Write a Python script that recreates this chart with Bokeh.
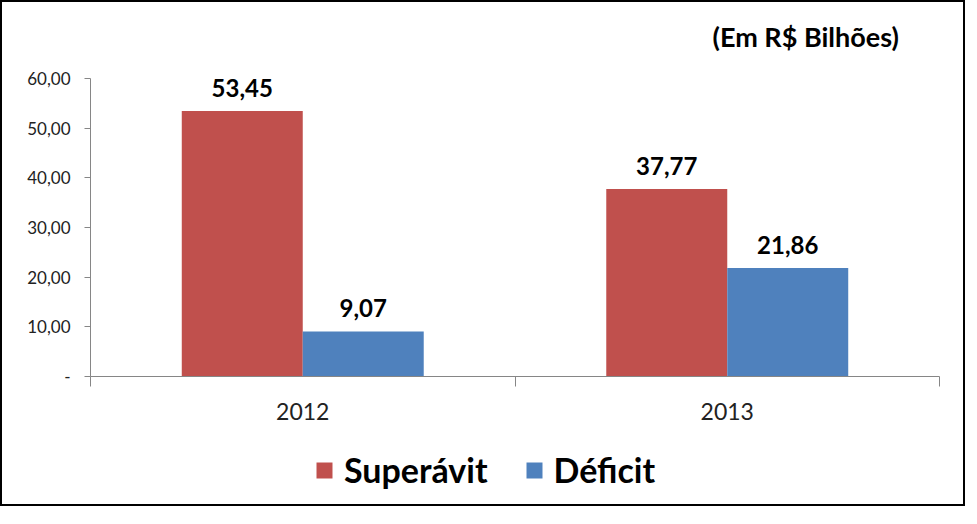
from bokeh.plotting import figure
from bokeh.layouts import column
from bokeh.models import ColumnDataSource, FixedTicker, LabelSet, Label, Legend, LegendItem, Range1d
from bokeh.core.properties import value
from bokeh.embed import file_html
from bokeh.resources import INLINE

categories = ["2012", "2013"]
superavit = [53.45, 37.77]
deficit = [9.07, 21.86]
series_names = ["Superávit", "Déficit"]
y_ticks = [0, 10, 20, 30, 40, 50, 60]
unit_label = "(Em R$ Bilhões)"

RED = "#C0504D"
BLUE = "#4F81BD"
FONT = "Lato"

def fmt(v):
    return f"{v:.2f}".replace(".", ",")

idx = list(range(len(categories)))
w = 0.285
src_s = ColumnDataSource(dict(x=[i + 0.5 - w / 2 for i in idx], y=superavit, lab=[fmt(v) for v in superavit]))
src_d = ColumnDataSource(dict(x=[i + 0.5 + w / 2 for i in idx], y=deficit, lab=[fmt(v) for v in deficit]))

# top strip with the unit note
p0 = figure(width=961, height=56, output_backend="svg", toolbar_location=None,
            x_range=Range1d(0, 961), y_range=Range1d(0, 56),
            x_axis_type=None, y_axis_type=None,
            min_border_left=0, min_border_right=0, min_border_top=0, min_border_bottom=0)
p0.outline_line_color = None
p0.xgrid.grid_line_color = None
p0.ygrid.grid_line_color = None
p0.add_layout(Label(x=915, y=22, text=unit_label, text_align="right", text_baseline="middle",
                    text_font=FONT, text_font_style="bold", text_font_size="27px", text_color="black"))

p = figure(frame_width=849, frame_height=298, output_backend="svg", toolbar_location=None,
           x_range=Range1d(0, len(categories)), y_range=Range1d(0, 60),
           min_border_left=88, min_border_right=24, min_border_top=20, min_border_bottom=58)
p.outline_line_color = None
p.xgrid.grid_line_color = None
p.ygrid.grid_line_color = None

p.vbar(x="x", top="y", width=w, bottom=0, source=src_s, fill_color=RED, line_color=None)
p.vbar(x="x", top="y", width=w, bottom=0, source=src_d, fill_color=BLUE, line_color=None)

for src in (src_s, src_d):
    p.add_layout(LabelSet(x="x", y="y", text="lab", source=src, text_align="center",
                          text_baseline="bottom", y_offset=14, text_font=value(FONT),
                          text_font_style="bold", text_font_size="24px", text_color="black"))

# y axis
p.yaxis.ticker = FixedTicker(ticks=y_ticks, minor_ticks=[])
p.yaxis.major_label_overrides = {t: ("-" if t == 0 else fmt(t)) for t in y_ticks}
p.yaxis.major_label_text_font = FONT
p.yaxis.major_label_text_font_size = "17px"
p.yaxis.major_label_text_color = "#222222"
p.yaxis.axis_line_color = "#868686"
p.yaxis.major_tick_line_color = "#868686"
p.yaxis.major_tick_out = 6
p.yaxis.major_tick_in = 0
p.yaxis.major_label_standoff = 14

# x axis
p.xaxis.ticker = FixedTicker(ticks=[i + 0.5 for i in idx], minor_ticks=list(range(len(categories) + 1)))
p.xaxis.major_label_overrides = {i + 0.5: c for i, c in zip(idx, categories)}
p.xaxis.major_label_text_font = FONT
p.xaxis.major_label_text_font_size = "23px"
p.xaxis.major_label_text_color = "#222222"
p.xaxis.axis_line_color = "#868686"
p.xaxis.major_tick_line_color = None
p.xaxis.minor_tick_line_color = "#868686"
p.xaxis.minor_tick_out = 10
p.xaxis.minor_tick_in = 0
p.xaxis.major_label_standoff = 16

# legend strip (bars drawn outside its visible range, only the legend shows)
p2 = figure(width=961, height=70, output_backend="svg", toolbar_location=None,
            x_range=Range1d(0, len(categories)), y_range=Range1d(1000, 2000),
            x_axis_type=None, y_axis_type=None,
            min_border_left=0, min_border_right=0, min_border_top=0, min_border_bottom=0)
p2.outline_line_color = None
p2.xgrid.grid_line_color = None
p2.ygrid.grid_line_color = None
ls = p2.vbar(x="x", top="y", width=w, bottom=0, source=src_s, fill_color=RED, line_color=None)
ld = p2.vbar(x="x", top="y", width=w, bottom=0, source=src_d, fill_color=BLUE, line_color=None)

legend = Legend(items=[LegendItem(label=series_names[0], renderers=[ls]),
                       LegendItem(label=series_names[1], renderers=[ld])],
                orientation="horizontal", location=(224, 14),
                label_text_font=FONT, label_text_font_style="bold", label_text_font_size="34px",
                label_text_color="black",
                glyph_width=20, glyph_height=20, spacing=36, label_standoff=10,
                border_line_color=None, background_fill_alpha=0, margin=0, padding=0)
p2.add_layout(legend, "center")

layout = column(p0, p, p2, spacing=0, styles={"border": "2px solid black", "background": "white"})

open("out.html", "w").write(file_html(layout, INLINE))
